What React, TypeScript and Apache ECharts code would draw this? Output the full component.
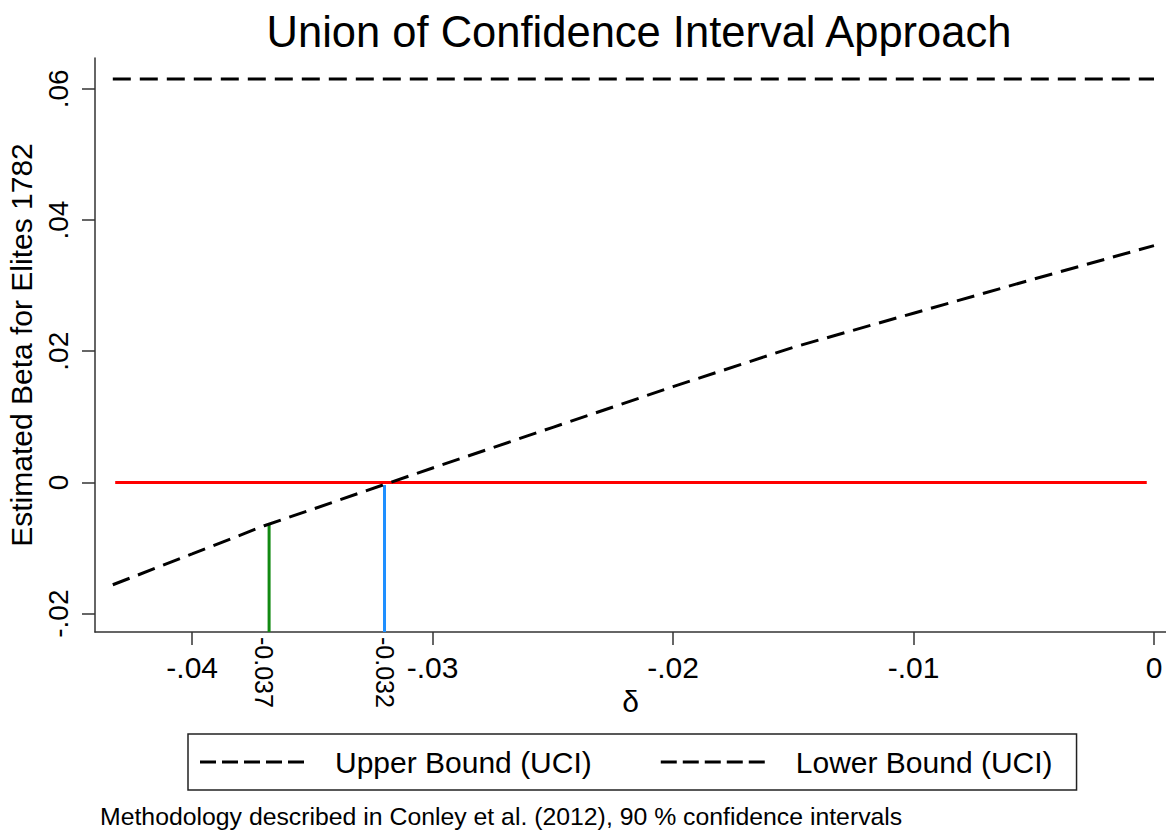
import React, { useEffect, useRef } from "react";
import * as echarts from "echarts";

const deltaLower = [-0.0433, -0.04, -0.037, -0.035, -0.032, -0.03, -0.025, -0.02, -0.015, -0.01, -0.005, 0];
const lowerBound = [-0.0156, -0.0109, -0.0066, -0.0041, -0.0003, 0.0022, 0.0084, 0.0146, 0.0206, 0.0258, 0.031, 0.0361];
const deltaUpper = [-0.0433, 0];
const upperBound = [0.0615, 0.0615];
const zeroLineX = [-0.0432, -0.0003];
const greenX = -0.0368;
const greenTop = -0.0065;
const blueX = -0.032;
const blueTop = -0.0004;
const xTicks = [-0.04, -0.03, -0.02, -0.01, 0];
const yTicks = [-0.02, 0, 0.02, 0.04, 0.06];
const markedX = [-0.037, -0.032];
const legendNames = ["Upper Bound (UCI)", "Lower Bound (UCI)"];
const X_MIN = -0.04404;
const X_MAX = 0.0005;
const Y_MIN = -0.0228;
const Y_MAX = 0.0647;

const fmt = (v: number) => (Math.abs(v) < 1e-12 ? "0" : v.toFixed(2).replace("0.", "."));
const FONT = "Liberation Sans, Arial, sans-serif";
const DASH_ICON =
  "path://M0,0h16v3h-16z M22,0h16v3h-16z M44,0h16v3h-16z M66,0h16v3h-16z M88,0h16v3h-16z";

export default function App() {
  const ref = useRef<HTMLDivElement>(null);
  useEffect(() => {
    const chart = echarts.init(ref.current!, null, { renderer: "svg" });
    const dash = { type: [18, 9] as any, width: 3, color: "#000" };
    chart.setOption({
      animation: false,
      backgroundColor: "#fff",
      title: {
        text: "Union of Confidence Interval Approach",
        left: 634,
        top: 5,
        textAlign: "center",
        textStyle: { fontFamily: FONT, fontSize: 43.5, fontWeight: "normal", color: "#000" },
      },
      grid: { left: 95, top: 58, right: 0, bottom: 202, containLabel: false, outerBoundsMode: "none" },
      legend: {
        data: legendNames.map((n) => ({ name: n, icon: DASH_ICON })),
        left: 188,
        top: 734,
        orient: "horizontal",
        itemWidth: 104,
        itemHeight: 3,
        itemGap: 69,
        padding: [13, 24, 13, 12],
        borderColor: "#222",
        borderWidth: 1.5,
        itemStyle: { color: "#000" },
        textStyle: { fontFamily: FONT, fontSize: 30, color: "#000", padding: [0, 0, 0, 26] },
      },
      xAxis: [
        {
          type: "value",
          min: X_MIN,
          max: X_MAX,
          name: "δ",
          nameLocation: "middle",
          nameGap: 51,
          nameTextStyle: { fontFamily: FONT, fontSize: 30, color: "#000" },
          axisLine: { show: true, onZero: false, lineStyle: { color: "#333", width: 1.5 } },
          axisTick: { show: true, length: 13, customValues: xTicks, lineStyle: { color: "#333", width: 1.5 } },
          axisLabel: { customValues: xTicks, formatter: fmt, fontFamily: FONT, fontSize: 30, color: "#000", margin: 20 },
          splitLine: { show: false },
        },
        {
          type: "value",
          min: X_MIN,
          max: X_MAX,
          position: "bottom",
          axisLine: { show: false },
          axisTick: { show: false },
          axisLabel: {
            customValues: markedX,
            formatter: (v: number) => v.toFixed(3),
            rotate: -90,
            fontFamily: FONT,
            fontSize: 25,
            color: "#000",
            margin: 5,
          },
          splitLine: { show: false },
        },
      ],
      yAxis: {
        type: "value",
        min: Y_MIN,
        max: Y_MAX,
        name: "Estimated Beta for Elites 1782",
        nameLocation: "middle",
        nameGap: 54,
        nameRotate: 90,
        nameTextStyle: { fontFamily: FONT, fontSize: 30, color: "#000" },
        axisLine: { show: true, onZero: false, lineStyle: { color: "#333", width: 1.5 } },
        axisTick: { show: true, length: 13, customValues: yTicks, lineStyle: { color: "#333", width: 1.5 } },
        axisLabel: { customValues: yTicks, formatter: fmt, rotate: 90, fontFamily: FONT, fontSize: 28, color: "#000", margin: 23 },
        splitLine: { show: false },
      },
      series: [
        {
          name: legendNames[0],
          type: "line",
          symbol: "none",
          data: deltaUpper.map((d, i) => [d, upperBound[i]]),
          lineStyle: dash,
          itemStyle: { color: "#000" },
        },
        {
          name: legendNames[1],
          type: "line",
          symbol: "none",
          data: deltaLower.map((d, i) => [d, lowerBound[i]]),
          lineStyle: dash,
          itemStyle: { color: "#000" },
        },
        {
          name: "zero",
          type: "line",
          symbol: "none",
          data: zeroLineX.map((d) => [d, 0]),
          lineStyle: { color: "#ff0000", width: 3 },
          z: 1,
        },
        {
          name: "green",
          type: "line",
          symbol: "none",
          data: [[greenX, Y_MIN], [greenX, greenTop]],
          lineStyle: { color: "#128a12", width: 3 },
          z: 1,
        },
        {
          name: "blue",
          type: "line",
          symbol: "none",
          data: [[blueX, Y_MIN], [blueX, blueTop]],
          lineStyle: { color: "#1e8fff", width: 3 },
          z: 1,
        },
      ],
      graphic: [
        {
          type: "text",
          left: 100,
          top: 804,
          style: {
            text: "Methodology described in Conley et al. (2012), 90 % confidence intervals",
            fontFamily: FONT,
            fontSize: 24.8,
            fill: "#000",
          },
        },
      ],
    });
    return () => chart.dispose();
  }, []);
  return <div ref={ref} style={{ position: "fixed", left: 0, top: 0, width: 1166, height: 834 }} />;
}
